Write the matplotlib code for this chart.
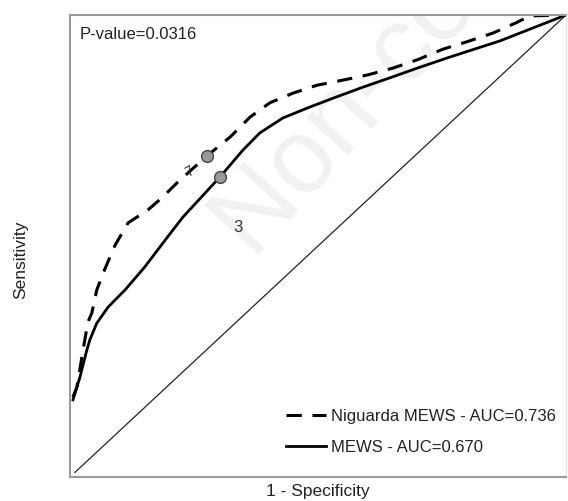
import matplotlib
matplotlib.use("Agg")
from matplotlib import pyplot as plt

plt.rcParams['font.family'] = ['Liberation Sans', 'DejaVu Sans']

# ROC curve points (1 - specificity, sensitivity)
niguarda_fpr = [0.006, 0.014, 0.024, 0.036, 0.044, 0.054, 0.071, 0.091, 0.117,
                0.157, 0.185, 0.218, 0.276, 0.323, 0.363, 0.403, 0.450, 0.498,
                0.550, 0.599, 0.651, 0.700, 0.752, 0.800, 0.853, 0.899, 0.927, 1.0]
niguarda_tpr = [0.173, 0.195, 0.260, 0.335, 0.355, 0.405, 0.452, 0.502, 0.550,
                0.578, 0.604, 0.639, 0.695, 0.736, 0.779, 0.810, 0.831, 0.848,
                0.859, 0.870, 0.885, 0.903, 0.926, 0.942, 0.961, 0.983, 0.998, 1.0]

mews_fpr = [0.006, 0.020, 0.034, 0.040, 0.054, 0.077, 0.111, 0.151, 0.192, 0.228,
            0.302, 0.349, 0.383, 0.429, 0.484, 0.538, 0.591, 0.645, 0.700, 0.766,
            0.867, 1.0]
mews_tpr = [0.167, 0.216, 0.275, 0.297, 0.333, 0.368, 0.405, 0.455, 0.513, 0.563,
            0.649, 0.708, 0.745, 0.777, 0.801, 0.823, 0.844, 0.864, 0.885, 0.909,
            0.944, 1.0]

# cut-off points marked on the curves
cut_fpr = [0.276, 0.302]
cut_tpr = [0.695, 0.649]
cut_labels = ['7', '3']

fig = plt.figure(figsize=(5.68, 5.01), dpi=100)
ax = fig.add_axes([70/568, 24/501, 496/568, 462/501])

## faint watermark, cut by the frame as in the source
ax.text(0.37, 0.47, 'Non-commercial use only', transform=ax.transAxes,
        fontsize=76, color='#f1f1f1', rotation=48, rotation_mode='anchor',
        ha='left', va='baseline', clip_on=True, zorder=0)

ax.plot([0.01, 1], [0.01, 1], color='#222222', lw=0.9, zorder=1)

ax.plot(niguarda_fpr, niguarda_tpr, color='black', lw=2.2, dashes=(5, 3.5),
        dash_capstyle='butt', label='Niguarda MEWS - AUC=0.736', zorder=2)
ax.plot(mews_fpr, mews_tpr, color='black', lw=2.0,
        solid_joinstyle='round', label='MEWS - AUC=0.670', zorder=2)

ax.plot(cut_fpr, cut_tpr, linestyle=' ', marker='o', markersize=8.5,
        markerfacecolor='#9a9a9a', markeredgecolor='#444444', markeredgewidth=1.0,
        zorder=3)

## cut-off labels
ax.text(cut_fpr[0] - 0.035, cut_tpr[0] - 0.035, cut_labels[0], fontsize=10,
        rotation=30, ha='center', va='center', color='#333333')
ax.text(cut_fpr[1] + 0.037, cut_tpr[1] - 0.108, cut_labels[1], fontsize=12,
        ha='center', va='center', color='#333333')

ax.text(0.02, 0.957, 'P-value=0.0316', transform=ax.transAxes, fontsize=12,
        ha='left', va='center', color='#222222')

ax.set_xlim(0, 1)
ax.set_ylim(0, 1)
ax.set_xticks([])
ax.set_yticks([])

for side in ['left', 'top', 'bottom']:
    ax.spines[side].set_color('#9a9a9a')
    ax.spines[side].set_linewidth(1.5)
ax.spines['right'].set_color('#e4e4e4')
ax.spines['right'].set_linewidth(1.0)

ax.set_xlabel('1 - Specificity', fontsize=12.5, color='#222222')
ax.xaxis.set_label_coords(0.5, -0.032)
ax.xaxis.label.set_verticalalignment('center')
ax.set_ylabel('Sensitivity', fontsize=12.5, color='#222222')
ax.yaxis.set_label_coords(-0.10, 0.47)
ax.yaxis.label.set_verticalalignment('center')

leg = ax.legend(loc='lower right', bbox_to_anchor=(0.98, 0.047), frameon=False,
                fontsize=12, handlelength=2.4, handletextpad=0.3,
                labelspacing=1.0, borderpad=0, borderaxespad=0)
for t in leg.get_texts():
    t.set_color('#222222')

fig.savefig('out.png', dpi=100)
